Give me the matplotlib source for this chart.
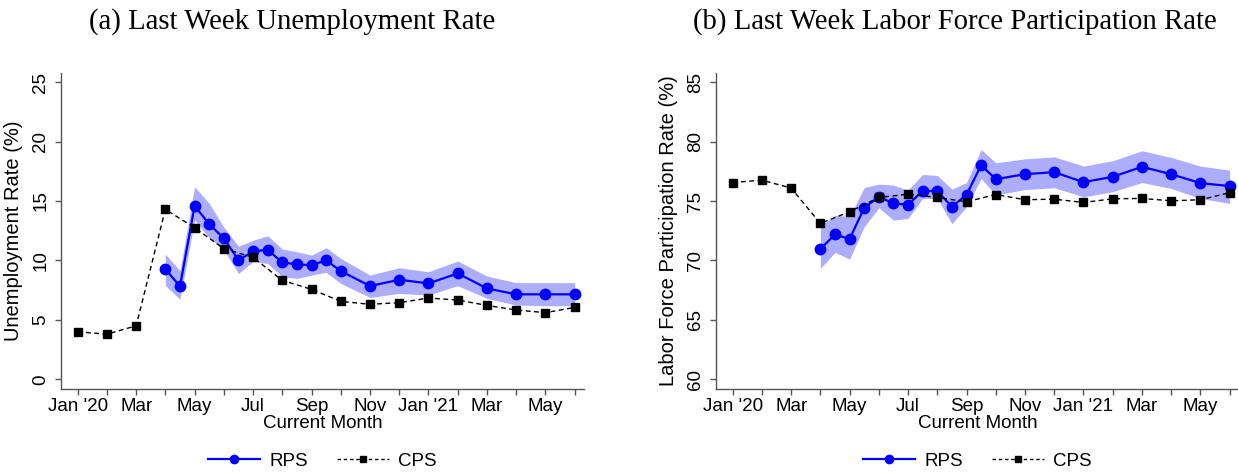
import numpy as np
import matplotlib
matplotlib.use('Agg')
import matplotlib.pyplot as plt
from matplotlib.lines import Line2D

plt.rcParams['font.family'] = ['Liberation Sans', 'DejaVu Sans']

# months since Jan 2020 (CPS monthly, RPS biweekly until Oct 2020 then monthly)
cps_x = list(range(18))
rps_x = [3, 3.5, 4, 4.5, 5, 5.5, 6, 6.5, 7, 7.5, 8, 8.5, 9, 10, 11, 12, 13, 14, 15, 16, 17]
month_labels = ["Jan '20", "", "Mar", "", "May", "", "Jul", "", "Sep", "", "Nov", "",
                "Jan '21", "", "Mar", "", "May", ""]

# (a) unemployment rate
cps_ur = [4.0, 3.8, 4.5, 14.3, 12.75, 11.0, 10.26, 8.32, 7.57, 6.56, 6.31, 6.45,
          6.84, 6.67, 6.22, 5.83, 5.61, 6.05]
rps_ur = [9.28, 7.82, 14.6, 13.06, 11.86, 10.03, 10.76, 10.9, 9.84, 9.67, 9.61, 10.01,
          9.11, 7.85, 8.38, 8.07, 8.91, 7.65, 7.15, 7.15, 7.15]
rps_ur_hi = [10.54, 9.14, 16.2, 14.8, 12.8, 11.2, 11.7, 12.08, 10.96, 10.73, 10.45, 11.07,
             10.17, 8.77, 9.39, 9.05, 9.95, 8.69, 8.13, 8.13, 8.13]
rps_ur_lo = [7.9, 6.73, 13.4, 11.9, 10.9, 8.9, 9.9, 9.75, 8.63, 8.49, 8.77, 9.0,
             8.07, 6.89, 7.23, 7.09, 7.88, 6.81, 6.25, 6.19, 6.19]

# (b) labor force participation rate
cps_lfp = [76.56, 76.76, 76.09, 73.12, 74.1, 75.3, 75.58, 75.3, 74.94, 75.55, 75.11, 75.16,
           74.88, 75.19, 75.22, 75.02, 75.11, 75.7]
rps_lfp = [70.96, 72.19, 71.8, 74.43, 75.36, 74.8, 74.69, 75.86, 75.84, 74.52, 75.53, 78.02,
           76.84, 77.26, 77.43, 76.59, 77.04, 77.88, 77.26, 76.51, 76.26]
rps_lfp_hi = [72.9, 73.8, 73.7, 76.14, 76.42, 76.34, 75.92, 77.24, 77.15, 76.0, 76.56, 79.34,
              78.22, 78.55, 78.72, 77.94, 78.39, 79.23, 78.67, 77.94, 77.6]
rps_lfp_lo = [69.33, 70.68, 70.12, 72.84, 74.43, 73.4, 73.54, 75.22, 75.22, 73.1, 74.52, 76.9,
              75.5, 75.97, 76.12, 75.36, 75.78, 76.56, 76.06, 75.22, 74.8]

W, H = 1238, 473
fig = plt.figure(figsize=(W / 100, H / 100), dpi=100)

panels = [
    (61, cps_ur, rps_ur, rps_ur_lo, rps_ur_hi, (-0.79, 25.8), range(0, 26, 5),
     'Unemployment Rate (%)', '(a) Last Week Unemployment Rate', 292),
    (716, cps_lfp, rps_lfp, rps_lfp_lo, rps_lfp_hi, (59.21, 85.8), range(60, 86, 5),
     'Labor Force Participation Rate (%)', '(b) Last Week Labor Force Participation Rate', 955),
]

axis_col = '#555555'
for left, cps, rps, lo, hi, ylim, yt, ylab, title, tx in panels:
    ax = fig.add_axes([left / W, 1 - 388.7 / H, 523 / W, 316 / H])
    ax.fill_between(rps_x, lo, hi, color='#adadfd', lw=0, zorder=1)
    ax.plot(rps_x, rps, color='#0000ff', lw=1.6, marker='o', ms=7.5, zorder=2)
    ax.plot(cps_x, cps, color='black', lw=1.0, ls=(0, (3.5, 2.5)), marker='s', ms=6, zorder=3)

    ax.set_xlim(-0.57, 17.32)
    ax.set_ylim(*ylim)
    ax.set_xticks(cps_x)
    ax.set_xticklabels(month_labels)
    ax.set_yticks(list(yt))
    for lab in ax.get_yticklabels():
        lab.set_rotation(90)
        lab.set_va('center')
    ax.tick_params(axis='both', labelsize=13.5, length=4.5, width=1, color=axis_col)
    ax.tick_params(axis='x', pad=2.5)
    ax.tick_params(axis='y', pad=4)
    for s in ['top', 'right']:
        ax.spines[s].set_visible(False)
    for s in ['left', 'bottom']:
        ax.spines[s].set_color(axis_col)
        ax.spines[s].set_linewidth(1.0)

    ax.set_ylabel(ylab, fontsize=14.5)
    ax.yaxis.set_label_coords(-0.072, 0.5)
    ax.set_xlabel('Current Month', fontsize=13.5)
    ax.xaxis.set_label_coords(0.5, -0.084)

    fig.text(tx / W, 1 - 22 / H, title, fontsize=20.7, family='Liberation Serif',
             ha='center', va='center')

    handles = [
        Line2D([], [], color='#0000ff', lw=1.6, marker='o', ms=6),
        Line2D([], [], color='black', lw=1.0, ls=(0, (2.5, 2)), marker='s', ms=4.5),
    ]
    fig.legend(handles, ['RPS', 'CPS'], loc='center', ncol=2, frameon=False,
               bbox_to_anchor=((left + 261.5) / W, 12 / H), fontsize=13.5,
               handlelength=2.8, columnspacing=1.5, handletextpad=0.5, numpoints=1)

fig.savefig('out.png', dpi=100)
